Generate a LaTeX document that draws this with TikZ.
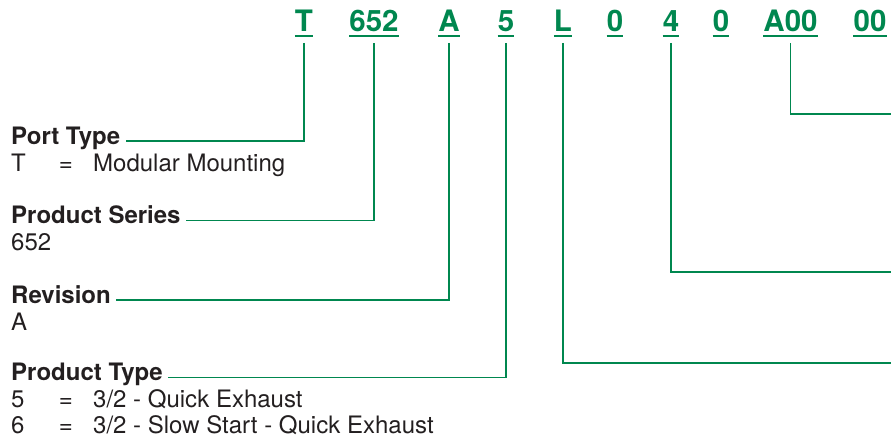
\documentclass[tikz,border=0pt]{standalone}
\usepackage{fontspec}
\setmainfont{TeX Gyre Heros}
\usetikzlibrary{positioning}
\definecolor{codegreen}{HTML}{00874F}
\definecolor{ink}{HTML}{231F20}
\newcommand{\entry}[2]{\makebox[47.6pt][l]{#1}\makebox[34.4pt][l]{=}#2}
\tikzset{
  code/.style={font=\fontsize{29.5}{31}\selectfont\bfseries,text=codegreen,inner sep=0pt,anchor=base},
  hdr/.style={font=\fontsize{24}{26}\selectfont\bfseries,text=ink,inner sep=0pt,anchor=base west},
  val/.style={font=\fontsize{24}{26}\selectfont,text=ink,inner sep=0pt,anchor=base west},
  uline/.style={draw=codegreen,line width=2pt},
  lead/.style={draw=codegreen,line width=1.3pt},
}
\begin{document}
\begin{tikzpicture}[x=1pt,y=-1pt]
\useasboundingbox (0,0) rectangle (891,437);
% order code
\node[code] (cT)   at (304,31)   {T};
\node[code] (c652) at (374,31)   {652};
\node[code] (cA)   at (449,31)   {A};
\node[code] (c5)   at (506,31)   {5};
\node[code] (cL)   at (563,31)   {L};
\node[code] (c0a)  at (615,31)   {0};
\node[code] (c4)   at (671,31)   {4};
\node[code] (c0b)  at (721,31)   {0};
\node[code] (cA00) at (790.5,31) {A00};
\node[code] (c00)  at (870,31)   {00};
\foreach \n in {cT,c652,cA,c5,cL,c0a,c4,c0b,cA00,c00}
  \draw[uline] ([yshift=-4.7pt]\n.south west) -- ([yshift=-4.7pt]\n.south east);
% fields
\node[hdr] (hPort) at (11,144)   {Port Type};
\node[val] (vPort) at (11,171)   {\entry{T}{Modular Mounting}};
\node[hdr] (hSer)  at (11,223.5) {Product Series};
\node[val] (vSer)  at (11,250.5) {652};
\node[hdr] (hRev)  at (11,303)   {Revision};
\node[val] (vRev)  at (11,330)   {A};
\node[hdr] (hTyp)  at (11,380.5) {Product Type};
\node[val] (vTyp)  at (11,407)   {\entry{5}{3/2 - Quick Exhaust}};
\node[val] (vTyp2) at (11,433.5) {\entry{6}{3/2 - Slow Start - Quick Exhaust}};
% fields that run off to the right
\coordinate (eA00) at (891,114);
\coordinate (e4)   at (891,272);
\coordinate (eL)   at (891,363);
% leaders
\draw[lead] ([yshift=-11.7pt]cT.south)   |- ([xshift=5.5pt,yshift=3pt]hPort.base east);
\draw[lead] ([yshift=-11.7pt]c652.south) |- ([xshift=5.5pt,yshift=3pt]hSer.base east);
\draw[lead] ([yshift=-11.7pt]cA.south)   |- ([xshift=5.5pt,yshift=3pt]hRev.base east);
\draw[lead] ([yshift=-11.7pt]c5.south)   |- ([xshift=5.5pt,yshift=3pt]hTyp.base east);
\draw[lead] ([yshift=-11.7pt]cL.south)   |- (eL);
\draw[lead] ([yshift=-11.7pt]c4.south)   |- (e4);
\draw[lead] ([yshift=-11.7pt]cA00.south) |- (eA00);
\end{tikzpicture}
\end{document}
